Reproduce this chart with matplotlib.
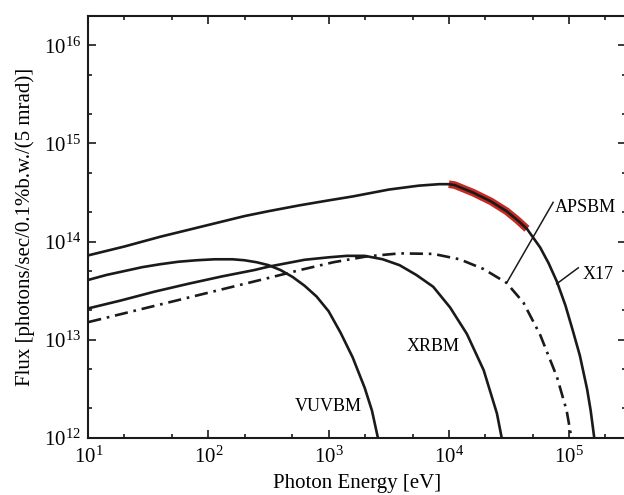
import numpy as np
import matplotlib
matplotlib.use("Agg")
import matplotlib.pyplot as plt
from matplotlib.ticker import FixedLocator, NullFormatter

plt.rcParams['font.family'] = ['Liberation Serif', 'DejaVu Serif']
plt.rcParams['mathtext.fontset'] = 'custom'
plt.rcParams['mathtext.rm'] = 'Liberation Serif'
plt.rcParams['mathtext.it'] = 'Liberation Serif:italic'
plt.rcParams['mathtext.bf'] = 'Liberation Serif:bold'

# ---- data (log10 of photon energy [eV], log10 of flux) ----
x17_log_e = [1.0, 1.3, 1.6, 2.0, 2.3, 2.5, 2.76, 3.0, 3.2, 3.5, 3.75, 3.92, 4.0, 4.05,
             4.2, 4.35, 4.48, 4.57, 4.65, 4.76, 4.83, 4.90, 4.97, 5.03, 5.09, 5.15,
             5.18, 5.21]
x17_log_flux = [13.86, 13.95, 14.05, 14.17, 14.26, 14.31, 14.37, 14.42, 14.46, 14.53,
                14.57, 14.585, 14.585, 14.575, 14.50, 14.41, 14.31, 14.22, 14.13,
                13.94, 13.78, 13.59, 13.35, 13.10, 12.84, 12.50, 12.28, 12.0]

apsbm_log_e = [1.0, 1.4, 1.8, 2.2, 2.5, 2.76, 3.04, 3.32, 3.59, 3.87, 4.09,
               4.29, 4.48, 4.62, 4.76, 4.90, 4.98, 5.02]
apsbm_log_flux = [13.18, 13.30, 13.42, 13.54, 13.63, 13.71, 13.79, 13.85,
                  13.88, 13.875, 13.82, 13.72, 13.58, 13.38, 13.05, 12.62, 12.28, 12.0]

xrbm_log_e = [1.0, 1.27, 1.55, 1.83, 2.11, 2.38, 2.5, 2.65, 2.8, 3.0, 3.15, 3.3,
              3.45, 3.59, 3.73, 3.87, 4.01, 4.15, 4.29, 4.40, 4.44]
xrbm_log_flux = [13.32, 13.40, 13.49, 13.57, 13.645, 13.71, 13.745, 13.78, 13.815,
                 13.84, 13.855, 13.855, 13.82, 13.76, 13.66, 13.54, 13.33, 13.06,
                 12.69, 12.25, 12.0]

vuvbm_log_e = [1.0, 1.15, 1.3, 1.45, 1.6, 1.75, 1.9, 2.05, 2.2, 2.3, 2.4, 2.5, 2.6,
               2.7, 2.8, 2.9, 3.0, 3.1, 3.2, 3.3, 3.36, 3.41]
vuvbm_log_flux = [13.61, 13.66, 13.70, 13.74, 13.77, 13.795, 13.81, 13.82, 13.82,
                  13.81, 13.79, 13.76, 13.71, 13.64, 13.55, 13.44, 13.29, 13.07,
                  12.82, 12.51, 12.28, 12.0]

highlight_e_range = (1.0e4, 4.5e4)   # red-marked part of X17

x_tick_values = [1e1, 1e2, 1e3, 1e4, 1e5]
x_tick_labels = [r'$10^{1}$', r'$10^{2}$', r'$10^{3}$', r'$10^{4}$', r'$10^{5}$']
y_tick_values = [1e12, 1e13, 1e14, 1e15, 1e16]
y_tick_labels = [r'$10^{12}$', r'$10^{13}$', r'$10^{14}$', r'$10^{15}$', r'$10^{16}$']

def arr(v):
    return 10.0 ** np.asarray(v, dtype=float)

fig = plt.figure(figsize=(6.24, 4.95), dpi=100)
ax = fig.add_axes([0.1415, 0.1152, 0.8623, 0.8531])
ax.set_xscale('log')
ax.set_yscale('log')
ax.set_xlim(10, 3e5)
ax.set_ylim(1e12, 2e16)

lw = 1.9
c = '#1a1a1a'
xe, xf = arr(x17_log_e), arr(x17_log_flux)
mask = (xe >= highlight_e_range[0]) & (xe <= highlight_e_range[1])
ax.plot(xe[mask], xf[mask], color='#c62a22', lw=5.5, solid_capstyle='butt', zorder=2)
ax.plot(xe, xf, color=c, lw=lw, zorder=3, solid_joinstyle='round')
ax.plot(arr(apsbm_log_e), arr(apsbm_log_flux), color=c, lw=lw, zorder=3,
        dashes=(5, 2.2, 1, 2.2))
ax.plot(arr(xrbm_log_e), arr(xrbm_log_flux), color=c, lw=lw, zorder=3,
        solid_joinstyle='round')
ax.plot(arr(vuvbm_log_e), arr(vuvbm_log_flux), color=c, lw=lw, zorder=3,
        solid_joinstyle='round')

# leader lines and labels
ax.plot([10**4.486, 10**4.868], [10**13.59, 10**14.40], color=c, lw=1.1)
ax.plot([10**4.897, 10**5.077], [10**13.57, 10**13.733], color=c, lw=1.1)
fs = 13
ax.text(10**4.885, 10**14.35, 'APSBM', fontsize=fs, ha='left', va='center')
ax.text(10**5.113, 10**13.67, 'X17', fontsize=fs, ha='left', va='center')
ax.text(10**3.649, 10**12.927, 'XRBM', fontsize=fs, ha='left', va='center')
ax.text(10**2.72, 10**12.318, 'VUVBM', fontsize=fs, ha='left', va='center')

# ticks
ax.xaxis.set_major_locator(FixedLocator(x_tick_values))
ax.set_xticklabels(x_tick_labels)
ax.yaxis.set_major_locator(FixedLocator(y_tick_values))
ax.set_yticklabels(y_tick_labels)
xminor = [m * 10.0**k for k in range(1, 6) for m in (2, 5)]
yminor = [m * 10.0**k for k in range(12, 17) for m in (2, 5)]
ax.xaxis.set_minor_locator(FixedLocator(xminor))
ax.yaxis.set_minor_locator(FixedLocator(yminor))
ax.xaxis.set_minor_formatter(NullFormatter())
ax.yaxis.set_minor_formatter(NullFormatter())
ax.tick_params(which='both', direction='in', top=True, right=True, width=1.2, color=c)
ax.tick_params(which='major', length=5.5, labelsize=15)
ax.tick_params(which='minor', length=3)
ax.tick_params(axis='x', which='major', pad=6)
ax.tick_params(axis='y', which='major', pad=5)
for s in ax.spines.values():
    s.set_linewidth(1.5)
    s.set_color(c)

ax.set_xlabel('Photon Energy [eV]', fontsize=15)
ax.set_ylabel('Flux [photons/sec/0.1%b.w./(5 mrad)]', fontsize=15)
ax.xaxis.set_label_coords(0.5, -0.086)
ax.yaxis.set_label_coords(-0.099, 0.5)

fig.savefig('out.png', dpi=100)
